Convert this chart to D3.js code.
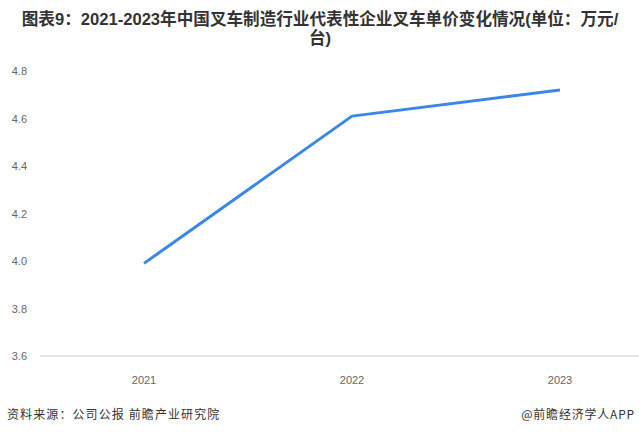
<!DOCTYPE html>
<html><head><meta charset="utf-8">
<script src="https://cdn.jsdelivr.net/npm/d3@7/dist/d3.min.js"></script>
<style>
body{margin:0;background:#fff;}
svg{display:block;font-family:"Noto Sans CJK SC","Noto Sans",sans-serif;}
</style></head>
<body><svg id="c" width="639" height="437"></svg>
<script>
const categories = ["2021","2022","2023"];
const values = [3.99, 4.61, 4.72];
const yTicks = [3.6, 3.8, 4.0, 4.2, 4.4, 4.6, 4.8];
const titleLines = ["图表9：2021-2023年中国叉车制造行业代表性企业叉车单价变化情况(单位：万元/", "台)"];
const sourceText = "资料来源：公司公报 前瞻产业研究院";
const brandText = "@前瞻经济学人APP";

const svg = d3.select("#c");

// title
svg.append("g").selectAll("text").data(titleLines).join("text")
  .attr("x", 320).attr("y", (d,i)=>25 + i*19)
  .attr("text-anchor","middle").attr("font-size",16.6).attr("font-weight","bold")
  .attr("font-family","'Liberation Sans','Noto Sans CJK SC',sans-serif")
  .attr("fill","#333").text(d=>d);

const x = d3.scaleBand().domain(categories).range([40, 664]);
const y = d3.scaleLinear().domain([3.6, 4.8]).range([356, 71]);

// y labels
const yAxis = d3.axisLeft(y).tickValues(yTicks).tickFormat(d3.format(".1f")).tickSize(0).tickPadding(0);
const gy = svg.append("g").attr("transform","translate(27,0)").call(yAxis);
gy.select(".domain").remove();
gy.selectAll("text").attr("fill","#666").attr("font-size",11).attr("font-family","Arial,'Liberation Sans',sans-serif");

// x axis baseline
svg.append("line").attr("x1",40).attr("x2",639).attr("y1",y(3.6)).attr("y2",y(3.6))
  .attr("stroke","#ccc").attr("stroke-width",1);

const xAxis = d3.axisBottom(x).tickSize(0).tickPadding(0);
const gx = svg.append("g").attr("transform",`translate(0,${y(3.6)+20})`).call(xAxis);
gx.select(".domain").remove();
gx.selectAll("text").attr("fill","#666").attr("font-size",11).attr("font-family","Arial,'Liberation Sans',sans-serif");

// line
const line = d3.line().x((d,i)=>x(categories[i]) + x.bandwidth()/2).y(d=>y(d));
svg.append("path").datum(values).attr("d", line)
  .attr("fill","none").attr("stroke","#3a87e6").attr("stroke-width",3).attr("stroke-linejoin","round");

// footer
svg.append("text").attr("x",7).attr("y",419).attr("font-size",12).attr("letter-spacing",1.1).attr("fill","#333").text(sourceText);
svg.append("text").attr("x",635).attr("y",419).attr("text-anchor","end").attr("font-size",12).attr("letter-spacing",0.8).attr("fill","#333").text(brandText);
</script></body></html>
